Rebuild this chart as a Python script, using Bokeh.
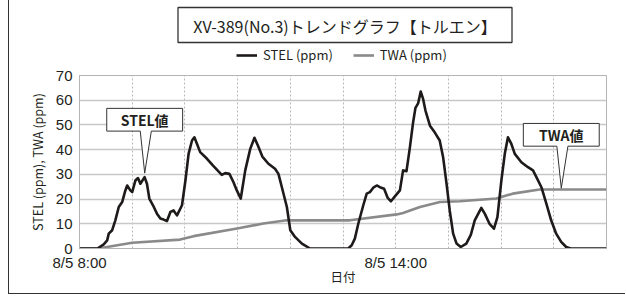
from bokeh.plotting import figure
from bokeh.models import FixedTicker, Legend, LegendItem, Range1d
from bokeh.layouts import column
from bokeh.embed import file_html
from bokeh.resources import INLINE
from bokeh.core.properties import value

# ---------------- data ----------------
title_text = "XV-389(No.3)トレンドグラフ【トルエン】"
stel_name = "STEL (ppm)"
twa_name = "TWA (ppm)"
y_axis_title = "STEL (ppm), TWA (ppm)"
x_axis_title = "日付"

# hours since 8/5 8:00
stel_hours = [0.00, 0.34, 0.46, 0.525, 0.555, 0.62, 0.68, 0.745, 0.81, 0.87, 0.905, 0.965, 1.00,
              1.06, 1.11, 1.155, 1.235, 1.28, 1.325, 1.41, 1.47, 1.535, 1.595, 1.66, 1.725, 1.785,
              1.85, 1.945, 2.01, 2.07, 2.135, 2.18, 2.23, 2.29, 2.42, 2.53, 2.70, 2.765, 2.845,
              2.92, 2.985, 3.06, 3.145, 3.24, 3.32, 3.385, 3.47, 3.585, 3.71, 3.775, 3.84, 3.935,
              4.00, 4.09, 4.22, 4.375, 5.10, 5.165, 5.225, 5.29, 5.385, 5.45, 5.51, 5.575, 5.64,
              5.70, 5.78, 5.845, 5.91, 5.985, 6.08, 6.14, 6.205, 6.27, 6.33, 6.375, 6.425, 6.475,
              6.52, 6.565, 6.65, 6.74, 6.835, 6.90, 6.965, 7.025, 7.09, 7.155, 7.235, 7.34, 7.425,
              7.50, 7.625, 7.69, 7.78, 7.865, 7.93, 8.005, 8.07, 8.13, 8.195, 8.26, 8.385, 8.51,
              8.605, 8.67, 8.765, 8.86, 8.95, 9.045, 9.14, 9.235, 9.32, 10.0]
stel_ppm = [0, 0, 1.7, 3.3, 6, 7.4, 11.4, 16.8, 18.8, 23.5, 25.5, 23.5, 22.8,
            27.5, 28.5, 26.2, 28.9, 26.2, 20.2, 16.8, 14.1, 12.1, 11.7, 11.1, 14.8, 15.4,
            13.4, 17.5, 27.5, 38.3, 43.7, 45, 42.3, 39, 36.3, 33.6, 29.8, 30.5, 30.2,
            26.9, 23.5, 20.2, 31.6, 40.3, 44.8, 41.7, 37.2, 34.3, 32.3, 30.2, 24.8, 16.8,
            7.4, 4.7, 2, 0, 0, 1.3, 4, 10, 17.5, 22.2, 22.8, 24.6, 25.5,
            24.8, 24.2, 20.6, 19.1, 21.1, 23.5, 31.6, 31.3, 41, 51, 56.9, 58.7, 63.5,
            60.5, 55.8, 49.7, 47, 43.7, 36.9, 26.2, 15.4, 6, 2, 0.6, 2, 5.5,
            11.4, 16.4, 14.1, 10, 8, 12.7, 27.5, 38.3, 45, 42.3, 38.3, 34.9, 32.9,
            31.6, 28.9, 24.8, 18.1, 11.4, 6, 2.7, 0.6, 0, 0]

twa_hours = [0.00, 0.35, 1.00, 1.91, 2.165, 2.99, 3.49, 3.93, 5.13, 6.02, 6.14, 6.46, 6.84,
             7.22, 7.91, 8.22, 8.73, 10.0]
twa_ppm = [0, 0, 2.3, 3.6, 5, 8.1, 10.1, 11.4, 11.4, 13.8, 14.4, 16.8, 18.8,
           19.1, 20.2, 22.2, 23.9, 23.9]

x_tick_hours = [0, 6]
x_tick_labels = ["8/5 8:00", "8/5 14:00"]
x_grid_hours = list(range(0, 11))
y_ticks = [0, 10, 20, 30, 40, 50, 60, 70]

# callouts: (label, tip_x, tip_y)
callouts = [("STEL値", 1.237, 30.5), ("TWA値", 9.142, 24.4)]

# ---------------- styles ----------------
JP = "Noto Sans CJK JP"
TXT = "#231f20"
STEL_COLOR = "#1e1a1a"
TWA_COLOR = "#8a8a8a"
BL, BR = 70, 19          # left / right borders shared by both panels
FW = 527                 # frame width
TOP_H = 66
NAN = float("nan")

# ---------- header (title box + legend) ----------
head = figure(frame_width=FW, frame_height=TOP_H, output_backend="svg", toolbar_location=None,
              x_range=Range1d(BL, BL + FW), y_range=Range1d(TOP_H, 0), title=None,
              min_border_left=BL, min_border_right=BR, min_border_top=0, min_border_bottom=0,
              x_axis_type=None, y_axis_type=None)
head.outline_line_color = None
head.grid.visible = False
head.background_fill_color = "white"
head.border_fill_color = "white"

head.quad(left=[168.5], right=[502.5], top=[7], bottom=[42], fill_color="white",
          line_color="#333333", line_width=1.3)
head.text(x=[335.5], y=[25], text=[title_text], text_align="center", text_baseline="middle",
          text_font=value(JP), text_font_size="16px", text_color=TXT)

h_stel = head.line([NAN], [NAN], line_color=STEL_COLOR, line_width=2.6)
h_twa = head.line([NAN], [NAN], line_color=TWA_COLOR, line_width=2.6)
legend = Legend(items=[LegendItem(label=stel_name, renderers=[h_stel]),
                       LegendItem(label=twa_name, renderers=[h_twa])],
                location=(157, 2), orientation="horizontal",
                padding=0, margin=0, spacing=20, label_standoff=6,
                glyph_width=21, glyph_height=14, label_height=14,
                label_text_font=JP, label_text_font_size="13px", label_text_color=TXT,
                border_line_color=None, background_fill_alpha=0)
head.add_layout(legend, "center")

# ---------- chart ----------
p = figure(frame_width=FW, frame_height=173, output_backend="svg", toolbar_location=None,
           x_range=Range1d(0, 10), y_range=Range1d(0, 70), title=None,
           min_border_left=BL, min_border_right=BR, min_border_top=9, min_border_bottom=45)
p.background_fill_color = "white"
p.border_fill_color = "white"
p.outline_line_color = "#b4b4b4"
p.outline_line_width = 1

p.xaxis.ticker = FixedTicker(ticks=x_tick_hours)
p.xaxis.major_label_overrides = dict(zip(x_tick_hours, x_tick_labels))
p.yaxis.ticker = FixedTicker(ticks=y_ticks)
for ax in (p.xaxis[0], p.yaxis[0]):
    ax.axis_line_color = "#b4b4b4"
    ax.major_tick_line_color = None
    ax.minor_tick_line_color = None
    ax.major_tick_out = 0
    ax.major_tick_in = 0
    ax.major_label_text_font = "Liberation Sans"
    ax.major_label_text_font_size = "15px"
    ax.major_label_text_color = TXT
    ax.axis_label_text_font = JP
    ax.axis_label_text_font_size = "12.5px"
    ax.axis_label_text_font_style = "normal"
    ax.axis_label_text_color = TXT
p.xaxis.axis_label = x_axis_title
p.yaxis.axis_label = y_axis_title
p.xaxis.major_label_standoff = 5
p.xaxis.axis_label_standoff = -7
p.yaxis.major_label_standoff = 7
p.yaxis.axis_label_standoff = 6

p.ygrid.ticker = FixedTicker(ticks=y_ticks)
p.ygrid.grid_line_color = "#c8c8c8"
p.ygrid.grid_line_width = 1.5
p.xgrid.ticker = FixedTicker(ticks=x_grid_hours)
p.xgrid.grid_line_color = "#b8b8b8"
p.xgrid.grid_line_dash = "2 2"
p.xgrid.grid_line_width = 1

p.line(twa_hours, twa_ppm, line_color=TWA_COLOR, line_width=2.6, line_join="round")
p.line(stel_hours, stel_ppm, line_color=STEL_COLOR, line_width=2.6, line_join="round")

# callouts (box sizes in data units)
box_w, box_h, box_lift, base_w = 1.44, 9.2, 17.0, 0.21
for label, tx, ty in callouts:
    y_bot = ty + box_lift
    y_top = y_bot + box_h
    x0 = tx - box_w * 0.5
    x1 = x0 + box_w
    xs = [x0, x1, x1, tx + base_w * 0.6, tx, tx - base_w * 0.4, x0]
    ys = [y_top, y_top, y_bot, y_bot, ty, y_bot, y_bot]
    p.patch(xs, ys, fill_color="white", line_color="#333333", line_width=1)
    p.text(x=[(x0 + x1) / 2], y=[(y_bot + y_top) / 2], text=[label], text_align="center",
           text_baseline="middle", text_font=value(JP), text_font_size="14px",
           text_font_style="bold", text_color=TXT)

layout = column(head, p, spacing=0)
layout.styles = {"margin-left": "8px", "border-left": "1.5px solid #333333",
                 "border-bottom": "1.5px solid #333333"}

open("out.html", "w").write(file_html(layout, INLINE))
